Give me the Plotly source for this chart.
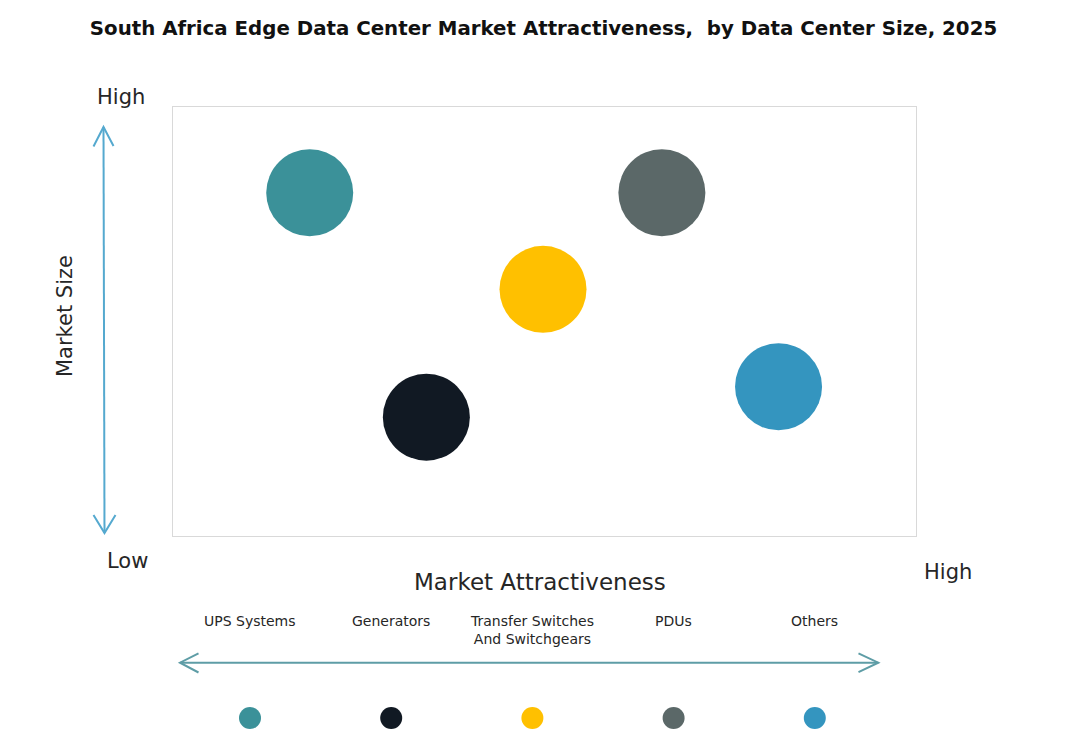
import plotly.graph_objects as go

# ---- data ----
segments = ["UPS Systems", "Generators", "Transfer Switches<br>And Switchgears", "PDUs", "Others"]
attractiveness = [18.4, 34.1, 49.8, 65.8, 81.5]   # x, 0-100 scale
market_size = [80.0, 27.7, 57.5, 80.0, 34.8]      # y, 0-100 scale
colors = ["#3B9199", "#111923", "#FFC000", "#5B6868", "#3495BF"]

# page has an 8px body margin, so the figure is drawn 8px in from the window corner
OFF = 8
W, H = 1083 - 2 * OFF, 739 - 2 * OFF


def px(x):
    return (x - OFF) / W


def py(y):
    return 1 - (y - OFF) / H


def path(points):
    return "M " + " L ".join(f"{px(a):.5f},{py(b):.5f}" for a, b in points)


fig = go.Figure()

fig.add_trace(go.Scatter(
    x=attractiveness, y=market_size, mode="markers",
    marker=dict(size=87, color=colors, line=dict(width=0)),
    text=[s.replace("<br>", " ") for s in segments], hoverinfo="text",
    showlegend=False, xaxis="x", yaxis="y", cliponaxis=False,
))

fig.add_trace(go.Scatter(
    x=segments, y=[0] * len(segments), mode="markers",
    marker=dict(size=22, color=colors, line=dict(width=0)),
    hoverinfo="skip", showlegend=False, xaxis="x2", yaxis="y2", cliponaxis=False,
))

font_family = "DejaVu Sans"
txt_color = "#262626"

annotations = []
for s in segments:
    annotations.append(dict(
        x=s, xref="x2", y=py(611), yref="paper", yanchor="top", xanchor="center",
        text=s, showarrow=False, align="center",
        font=dict(family=font_family, size=14, color=txt_color),
    ))


def label(x, y, text, size, angle=0):
    return dict(x=px(x), y=py(y), xref="paper", yref="paper", text=text, showarrow=False,
                xanchor="center", yanchor="middle", textangle=angle,
                font=dict(family=font_family, size=size, color=txt_color))


annotations += [
    label(121, 97, "High", 21),
    label(127, 561, "Low", 21),
    label(948, 572, "High", 21),
    label(65, 316, "Market Size", 21, -90),
    label(540, 582, "Market Attractiveness", 23),
]

v_col = "#55A9CF"
h_col = "#5E9DA6"
shapes = [
    # vertical arrow
    dict(type="path", xref="paper", yref="paper",
         path=path([(103.5, 127), (104.5, 533)]), line=dict(color=v_col, width=2)),
    dict(type="path", xref="paper", yref="paper",
         path=path([(93.5, 146.5), (103.5, 127), (113.5, 146)]), line=dict(color=v_col, width=2)),
    dict(type="path", xref="paper", yref="paper",
         path=path([(93.5, 515), (104.5, 533), (115.5, 515)]), line=dict(color=v_col, width=2)),
    # horizontal arrow
    dict(type="path", xref="paper", yref="paper",
         path=path([(180, 662.7), (878.3, 662.7)]), line=dict(color=h_col, width=2)),
    dict(type="path", xref="paper", yref="paper",
         path=path([(198.5, 653.3), (180, 662.7), (198.5, 672.5)]), line=dict(color=h_col, width=2)),
    dict(type="path", xref="paper", yref="paper",
         path=path([(858.5, 653.3), (878.3, 662.7), (858.5, 672.2)]), line=dict(color=h_col, width=2)),
]

fig.update_layout(
    width=W, height=H, autosize=False,
    margin=dict(l=0, r=0, t=0, b=0),
    paper_bgcolor="white", plot_bgcolor="white",
    title=dict(
        text="<b>South Africa Edge Data Center Market Attractiveness,  by Data Center Size, 2025</b>",
        x=px(543.5), xanchor="center", y=py(28), yanchor="middle", yref="paper",
        font=dict(family=font_family, size=19.8, color="#111111"),
    ),
    xaxis=dict(domain=[px(173), px(916)], range=[0, 100], showgrid=False, zeroline=False,
               showticklabels=False, ticks="", showline=True, mirror=True,
               linecolor="#D9D9D9", linewidth=1, fixedrange=True),
    yaxis=dict(domain=[py(536), py(107)], range=[0, 100], showgrid=False, zeroline=False,
               showticklabels=False, ticks="", showline=True, mirror=True,
               linecolor="#D9D9D9", linewidth=1, fixedrange=True),
    xaxis2=dict(domain=[px(179.4), px(885.4)], type="category", visible=False,
                range=[-0.5, len(segments) - 0.5], autorange=False,
                anchor="y2", fixedrange=True),
    yaxis2=dict(domain=[py(730), py(706)], range=[-1, 1], visible=False,
                anchor="x2", fixedrange=True),
    annotations=annotations,
    shapes=shapes,
    showlegend=False,
)

fig.write_html("out.html")
